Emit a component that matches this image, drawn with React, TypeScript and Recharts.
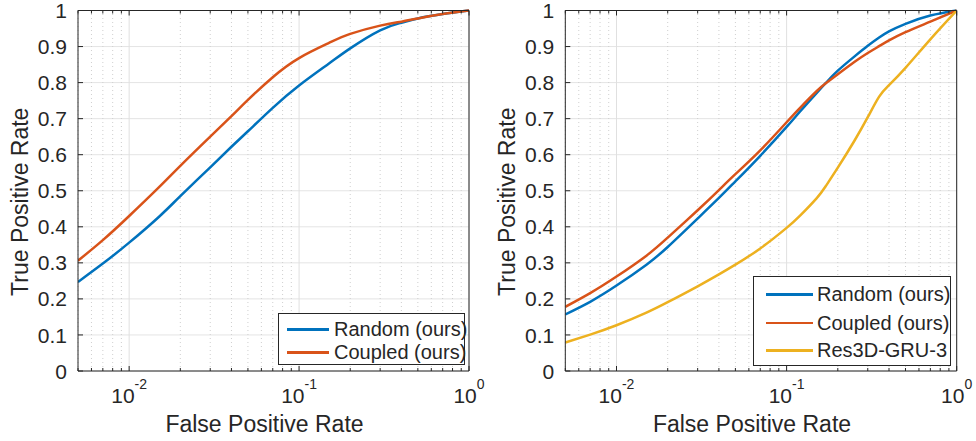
import React from 'react';
import { LineChart, Line, XAxis, YAxis, CartesianGrid, ReferenceLine, Legend, Label } from 'recharts';

// ROC curves on a log-scaled false positive rate axis
const fprLeft = [0.005, 0.007, 0.01, 0.015, 0.02, 0.03, 0.04, 0.05, 0.07, 0.1, 0.15, 0.2, 0.3, 0.4, 0.5, 0.7, 1];
const randomLeft = [0.247, 0.298, 0.356, 0.428, 0.485, 0.565, 0.622, 0.665, 0.73, 0.792, 0.853, 0.895, 0.945, 0.966, 0.978, 0.99, 1];
const coupledLeft = [0.306, 0.363, 0.43, 0.51, 0.569, 0.65, 0.707, 0.752, 0.815, 0.868, 0.91, 0.935, 0.958, 0.969, 0.978, 0.99, 1];

const fprRight = [0.005, 0.007, 0.01, 0.015, 0.02, 0.03, 0.04, 0.05, 0.07, 0.1, 0.12, 0.15, 0.17, 0.2, 0.25, 0.3, 0.35, 0.4, 0.5, 0.7, 1];
const randomRight = [0.157, 0.192, 0.237, 0.295, 0.344, 0.423, 0.48, 0.526, 0.597, 0.677, 0.72, 0.771, 0.799, 0.833, 0.872, 0.902, 0.925, 0.942, 0.963, 0.986, 1];
const coupledRight = [0.178, 0.216, 0.262, 0.32, 0.37, 0.446, 0.502, 0.546, 0.612, 0.69, 0.73, 0.776, 0.798, 0.823, 0.857, 0.882, 0.901, 0.917, 0.94, 0.969, 1];
const res3dRight = [0.079, 0.101, 0.127, 0.162, 0.191, 0.235, 0.268, 0.295, 0.34, 0.397, 0.431, 0.479, 0.513, 0.564, 0.638, 0.704, 0.761, 0.793, 0.841, 0.92, 1];

const yTicks = [0, 0.1, 0.2, 0.3, 0.4, 0.5, 0.6, 0.7, 0.8, 0.9, 1];
const yTickLabels = ['0', '0.1', '0.2', '0.3', '0.4', '0.5', '0.6', '0.7', '0.8', '0.9', '1'];
const majorX = [0.01, 0.1, 1];
const majorXExponents = ['-2', '-1', '0'];
const minorX = [
  0.005, 0.006, 0.007, 0.008, 0.009,
  0.02, 0.03, 0.04, 0.05, 0.06, 0.07, 0.08, 0.09,
  0.2, 0.3, 0.4, 0.5, 0.6, 0.7, 0.8, 0.9,
];
const allX = [...minorX, ...majorX].sort((a, b) => a - b);

const FONT = '"Liberation Sans", Arial, Helvetica, sans-serif';
const INK = '#262626';
const BLUE = '#0072BD';
const ORANGE = '#D95319';
const YELLOW = '#EDB120';

type Series = { key: string; name: string; color: string; values: number[] };

const isMajor = (v: number) => majorX.some((m) => Math.abs(m - v) < 1e-9);

const BottomTick = (props: any) => {
  const { x, y, payload } = props;
  const v = payload.value;
  const idx = majorX.findIndex((m) => Math.abs(m - v) < 1e-9);
  return (
    <g>
      <line x1={x} x2={x} y1={y} y2={y - (idx >= 0 ? 5 : 3)} stroke={INK} strokeWidth={1} />
      {idx >= 0 && (
        <text x={x} y={y + 32} textAnchor="middle" fontFamily={FONT} fontSize={21} fill={INK}>
          <tspan>10</tspan>
          <tspan dy={-14} fontSize={14}>{majorXExponents[idx]}</tspan>
        </text>
      )}
    </g>
  );
};

const TopTick = (props: any) => {
  const { x, y, payload } = props;
  return <line x1={x} x2={x} y1={y} y2={y + (isMajor(payload.value) ? 5 : 3)} stroke={INK} strokeWidth={1} />;
};

const LeftTick = (props: any) => {
  const { x, y, payload, index } = props;
  return (
    <g>
      <line x1={x} x2={x + 5} y1={y} y2={y} stroke={INK} strokeWidth={1} />
      <text x={x - 11} y={y} dy="0.36em" textAnchor="end" fontFamily={FONT} fontSize={21} fill={INK}>
        {yTickLabels[index] ?? payload.value}
      </text>
    </g>
  );
};

const RightTick = (props: any) => {
  const { x, y } = props;
  return <line x1={x} x2={x - 5} y1={y} y2={y} stroke={INK} strokeWidth={1} />;
};

type LegendBox = { left: number; top: number; width: number; height: number; rows: number[]; lineLeft: number; lineWidth: number; textLeft: number };

const makeLegend = (series: Series[], box: LegendBox) => () => (
  <div
    style={{
      position: 'relative',
      width: box.width,
      height: box.height,
      boxSizing: 'border-box',
      border: `1px solid ${INK}`,
      background: '#fff',
      fontFamily: FONT,
      fontSize: 20,
      color: INK,
    }}
  >
    {series.map((s, i) => (
      <div key={s.key} style={{ position: 'absolute', left: 0, top: box.rows[i] - 12, height: 24, width: '100%' }}>
        <div style={{ position: 'absolute', left: box.lineLeft, top: 11, width: box.lineWidth, height: 2.5, background: s.color }} />
        <div style={{ position: 'absolute', left: box.textLeft, top: 0, lineHeight: '24px', whiteSpace: 'nowrap' }}>{s.name}</div>
      </div>
    ))}
  </div>
);

type PanelProps = {
  width: number;
  height: number;
  margin: { top: number; right: number; bottom: number; left: number };
  fpr: number[];
  series: Series[];
  legend: LegendBox;
};

const Panel = ({ width, height, margin, fpr, series, legend }: PanelProps) => {
  const rows = fpr.map((f, i) => {
    const r: Record<string, number> = { fpr: f };
    series.forEach((s) => {
      r[s.key] = s.values[i];
    });
    return r;
  });
  return (
    <LineChart width={width} height={height} data={rows} margin={margin}>
      <CartesianGrid vertical={false} stroke="#e4e4e4" strokeWidth={1} />
      {minorX.map((v) => (
        <ReferenceLine key={`m${v}`} x={v} stroke="#cfcfcf" strokeDasharray="1 3" strokeWidth={1} />
      ))}
      {majorX.map((v) => (
        <ReferenceLine key={`M${v}`} x={v} stroke="#e0e0e0" strokeWidth={1} />
      ))}
      <XAxis
        dataKey="fpr"
        type="number"
        scale="log"
        domain={[0.005, 1]}
        allowDataOverflow
        ticks={allX}
        interval={0}
        height={1}
        tickSize={0}
        tickMargin={0}
        tickLine={false}
        axisLine={{ stroke: INK, strokeWidth: 1 }}
        tick={<BottomTick />}
      >
        <Label
          content={(p: any) => {
            const vb = p.viewBox;
            return (
              <text x={vb.x + vb.width / 2 - 9} y={vb.y + 61} textAnchor="middle" fontFamily={FONT} fontSize={23} fill={INK}>
                False Positive Rate
              </text>
            );
          }}
        />
      </XAxis>
      <XAxis
        xAxisId="top"
        orientation="top"
        dataKey="fpr"
        type="number"
        scale="log"
        domain={[0.005, 1]}
        allowDataOverflow
        ticks={allX}
        interval={0}
        height={1}
        tickSize={0}
        tickMargin={0}
        tickLine={false}
        axisLine={{ stroke: INK, strokeWidth: 1 }}
        tick={<TopTick />}
      />
      <YAxis
        type="number"
        domain={[0, 1]}
        ticks={yTicks}
        interval={0}
        width={1}
        tickSize={0}
        tickMargin={0}
        tickLine={false}
        axisLine={{ stroke: INK, strokeWidth: 1 }}
        tick={<LeftTick />}
      >
        <Label
          content={(p: any) => {
            const vb = p.viewBox;
            const cx = vb.x - 49;
            const cy = vb.y + vb.height / 2 + 11;
            return (
              <text x={cx} y={cy} transform={`rotate(-90 ${cx} ${cy})`} textAnchor="middle" fontFamily={FONT} fontSize={23} fill={INK}>
                True Positive Rate
              </text>
            );
          }}
        />
      </YAxis>
      <YAxis
        yAxisId="right"
        orientation="right"
        type="number"
        domain={[0, 1]}
        ticks={yTicks}
        interval={0}
        width={1}
        tickSize={0}
        tickMargin={0}
        tickLine={false}
        axisLine={{ stroke: INK, strokeWidth: 1 }}
        tick={<RightTick />}
      />
      {series.map((s) => (
        <Line
          key={s.key}
          dataKey={s.key}
          name={s.name}
          type="natural"
          stroke={s.color}
          strokeWidth={2.5}
          dot={false}
          activeDot={false}
          isAnimationActive={false}
        />
      ))}
      <Legend
        layout="vertical"
        align="center"
        verticalAlign="middle"
        content={makeLegend(series, legend)}
        wrapperStyle={{ left: legend.left, top: legend.top, width: legend.width, height: legend.height, right: 'auto', bottom: 'auto' }}
      />
    </LineChart>
  );
};

const leftSeries: Series[] = [
  { key: 'random', name: 'Random (ours)', color: BLUE, values: randomLeft },
  { key: 'coupled', name: 'Coupled (ours)', color: ORANGE, values: coupledLeft },
];

const rightSeries: Series[] = [
  { key: 'random', name: 'Random (ours)', color: BLUE, values: randomRight },
  { key: 'coupled', name: 'Coupled (ours)', color: ORANGE, values: coupledRight },
  { key: 'res3d', name: 'Res3D-GRU-3', color: YELLOW, values: res3dRight },
];

export default function App() {
  return (
    <div style={{ position: 'absolute', left: 0, top: 0, width: 976, height: 441, background: '#fff' }}>
      <div style={{ position: 'absolute', left: 0, top: 0 }}>
        <Panel
          width={490}
          height={441}
          margin={{ top: 9.5, right: 20, bottom: 69, left: 77 }}
          fpr={fprLeft}
          series={leftSeries}
          legend={{ left: 278, top: 313, width: 187, height: 52, rows: [15, 38], lineLeft: 8, lineWidth: 42, textLeft: 55 }}
        />
      </div>
      <div style={{ position: 'absolute', left: 490, top: 0 }}>
        <Panel
          width={486}
          height={441}
          margin={{ top: 9.5, right: 18.3, bottom: 69, left: 74.3 }}
          fpr={fprRight}
          series={rightSeries}
          legend={{ left: 263, top: 276, width: 198, height: 90, rows: [17, 45.5, 73], lineLeft: 12, lineWidth: 47, textLeft: 63 }}
        />
      </div>
    </div>
  );
}
